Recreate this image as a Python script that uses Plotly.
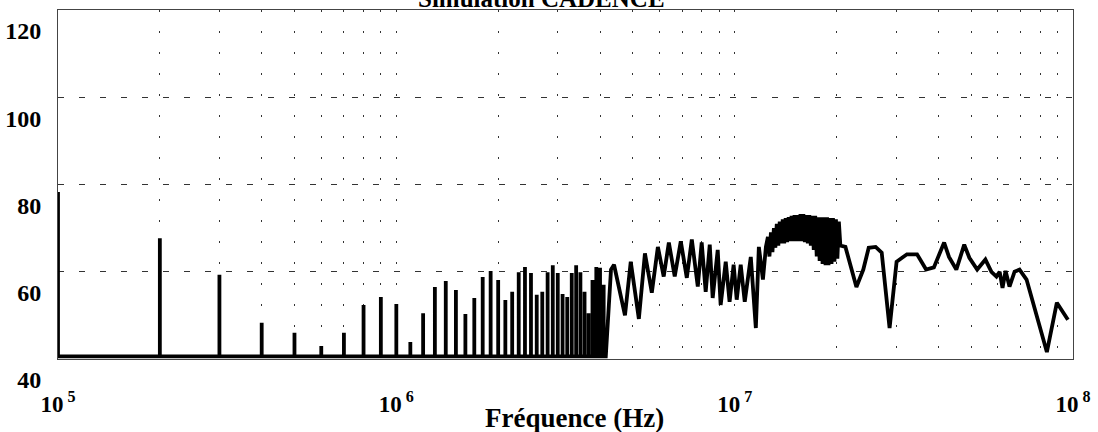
import plotly.graph_objects as go

# ---- data ----
floor_db = 40.6
# harmonic spikes (n x 100 kHz), n = 1..41
harm_n = list(range(1, 42))
harm_db = [78.3, 67.7, 59.3, 48.3, 46.0, 43.0, 46.0, 52.4, 54.2, 52.6,
           43.9, 50.5, 56.5, 57.9, 55.8, 50.3, 54.0, 58.8, 60.2, 58.1,
           53.5, 55.4, 59.9, 61.1, 59.7, 54.7, 55.4, 59.9, 61.5, 59.7,
           54.9, 54.2, 59.7, 61.5, 59.9, 55.4, 50.5, 58.1, 61.1, 60.9, 57.0]

# continuous part (MHz, dBuV)
cont_mhz = [4.16, 4.31, 4.40, 4.74, 4.93, 5.21, 5.43, 5.69, 5.93, 6.17,
            6.39, 6.65, 6.93, 7.22, 7.47, 7.78, 7.99, 8.21, 8.44, 8.61,
            8.91, 9.09, 9.41, 9.66, 9.93, 10.14, 10.42, 10.71, 11.16, 11.55,
            11.79, 12.12, 12.37]
cont_db = [40.6, 60.5, 61.6, 50.0, 62.3, 49.2, 64.2, 55.2, 65.7, 58.9,
           66.7, 58.9, 67.0, 58.6, 67.4, 56.6, 66.7, 55.4, 66.2, 54.0,
           65.0, 52.4, 62.3, 53.1, 61.6, 53.6, 61.6, 53.1, 63.4, 47.1,
           65.7, 58.2, 65.7]

band_mhz = [12.54, 12.67, 12.80, 12.93, 13.06, 13.19, 13.32, 13.46, 13.59, 13.73,
            13.87, 14.01, 14.15, 14.29, 14.44, 14.58, 14.73, 14.88, 15.03, 15.18,
            15.33, 15.49, 15.65, 15.80, 15.96, 16.12, 16.29, 16.45, 16.62, 16.79,
            16.96, 17.13, 17.30, 17.48, 17.65, 17.83, 18.01, 18.19, 18.38, 18.56,
            18.75, 18.94, 19.13, 19.33, 19.52, 19.72, 19.92, 20.12, 20.32, 20.53]
band_db = [68.0, 63.5, 69.0, 64.5, 70.0, 65.5, 71.0, 66.0, 71.5, 66.5,
           72.0, 66.5, 72.3, 66.8, 72.5, 67.0, 72.8, 67.0, 73.0, 67.0,
           73.0, 67.0, 73.2, 67.0, 73.2, 66.8, 73.0, 66.5, 73.0, 66.0,
           72.8, 65.0, 72.8, 63.5, 72.5, 62.5, 72.5, 61.8, 72.5, 61.5,
           72.5, 61.5, 72.3, 61.8, 72.3, 62.3, 72.0, 63.0, 71.5, 66.0]

tail_mhz = [21.25, 22.9, 24.0, 24.9, 26.1, 27.2, 28.7, 30.1, 32.3, 34.6,
            36.8, 38.8, 41.6, 43.0, 45.2, 47.7, 49.4, 52.1, 55.1, 57.4,
            59.4, 60.7, 61.9, 63.2, 64.9, 67.2, 69.5, 72.9, 83.7, 89.6, 96.6]
tail_db = [65.7, 56.5, 60.5, 65.5, 65.7, 64.4, 47.1, 62.3, 64.0, 64.0,
           60.5, 61.0, 66.7, 63.4, 60.5, 66.2, 63.2, 60.5, 62.8, 60.0,
           58.9, 60.0, 56.3, 60.2, 56.6, 60.0, 60.5, 58.2, 41.6, 52.9, 49.0]

y_ticks = [40, 60, 80, 100, 120]
decades = [5, 6, 7, 8]

# ---- build the trace ----
xs, ys = [], []
for n, h in zip(harm_n, harm_db):
    f = n * 1e5
    xs += [f, f, f]
    ys += [floor_db, h, floor_db]
for f, v in zip(cont_mhz + band_mhz + tail_mhz, cont_db + band_db + tail_db):
    xs.append(f * 1e6)
    ys.append(v)

fig = go.Figure()
fig.add_trace(go.Scatter(x=xs, y=ys, mode="lines",
                         line=dict(color="black", width=3.8),
                         hoverinfo="skip", showlegend=False))

tickvals, ticktext = [], []
for d in decades:
    for m in range(1, 10):
        if d == 8 and m > 1:
            break
        tickvals.append(m * 10 ** d)
        ticktext.append(f"10<sup> {d}</sup>" if m == 1 else " ")

serif = "Liberation Serif, Times New Roman, serif"
fig.update_layout(
    width=1098, height=432,
    margin=dict(l=58, r=25, t=10, b=73),
    paper_bgcolor="white", plot_bgcolor="white",
    font=dict(family=serif, color="black"),
    xaxis=dict(type="log", range=[5, 8], tickvals=tickvals, ticktext=ticktext,
               showgrid=True, gridcolor="#333", gridwidth=1, griddash="2px,19px",
               showline=True, linecolor="#444", linewidth=1, mirror=True,
               ticks="", zeroline=False, ticklabelstandoff=24, tickangle=0,
               automargin=False,
               tickfont=dict(family=serif, size=23, weight="bold", color="black")),
    yaxis=dict(range=[40, 120], tickvals=y_ticks,
               showgrid=True, gridcolor="#333", gridwidth=1, griddash="6px,15px",
               showline=True, linecolor="#444", linewidth=1, mirror=True,
               ticks="", zeroline=False, ticklabelshift=21, ticklabelstandoff=11,
               automargin=False,
               tickfont=dict(family=serif, size=24, weight="bold", color="black")),
    annotations=[
        dict(text="Simulation CADENCE", xref="paper", yref="paper",
             x=0.476, y=1.0, xanchor="center", yanchor="bottom", yshift=-4,
             showarrow=False, font=dict(family=serif, size=25, weight="bold")),
        dict(text="Fréquence (Hz)", xref="paper", yref="paper",
             x=0.509, y=-0.17, xanchor="center", yanchor="middle",
             showarrow=False, font=dict(family=serif, size=27, weight="bold")),
    ],
)

fig.write_html("out.html", config={"displayModeBar": False},
               post_script="document.body.style.margin='0';document.body.style.overflow='hidden';")
